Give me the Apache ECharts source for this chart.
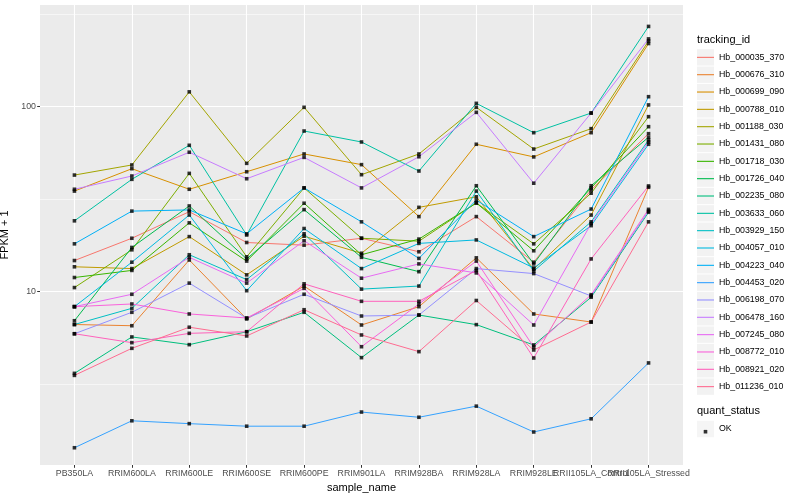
<!DOCTYPE html>
<html><head><meta charset="utf-8">
<script src="https://cdn.jsdelivr.net/npm/echarts@6/dist/echarts.min.js"></script>
<style>html,body{margin:0;padding:0;background:#fff}#c{width:800px;height:500px}</style>
</head><body><div id="c"></div>
<script>
const categories = ['PB350LA','RRIM600LA','RRIM600LE','RRIM600SE','RRIM600PE','RRIM901LA','RRIM928BA','RRIM928LA','RRIM928LE','RRII105LA_Control','RRII105LA_Stressed'];
const trackingIds = ['Hb_000035_370','Hb_000676_310','Hb_000699_090','Hb_000788_010','Hb_001188_030','Hb_001431_080','Hb_001718_030','Hb_001726_040','Hb_002235_080','Hb_003633_060','Hb_003929_150','Hb_004057_010','Hb_004223_040','Hb_004453_020','Hb_006198_070','Hb_006478_160','Hb_007245_080','Hb_008772_010','Hb_008921_020','Hb_011236_010'];
const colors = ['#F8766D','#EA8331','#D89000','#C09B00','#A3A500','#7CAE00','#39B600','#00BB4E','#00BF7D','#00C1A3','#00BFC4','#00BAE0','#00B0F6','#35A2FF','#9590FF','#C77CFF','#E76BF3','#FA62DB','#FF62BC','#FF6C91'];

// FPKM + 1 values, one array per tracking_id, in category order
const Hb_000035_370 = [14.7, 19.4, 27.0, 18.4, 17.8, 19.4, 16.4, 25.4, 14.4, 35.4, 71.3];
const Hb_000676_310 = [6.63, 6.53, 14.8, 7.10, 10.7, 6.59, 8.28, 15.2, 7.56, 6.84, 36.6];
const Hb_000699_090 = [34.9, 46.1, 35.7, 44.4, 55.4, 48.5, 25.4, 62.5, 53.4, 72.2, 219];
const Hb_000788_010 = [13.6, 13.3, 19.8, 12.3, 19.9, 16.1, 28.5, 32.5, 13.2, 25.9, 102];
const Hb_001188_030 = [42.6, 48.3, 120, 49.3, 99, 42.8, 55.4, 99, 58.9, 75.9, 226];
const Hb_001431_080 = [10.5, 16.8, 43.5, 15.4, 36.3, 19.4, 18.7, 30.1, 18.1, 34.0, 88.1];
const Hb_001718_030 = [11.9, 13.0, 23.5, 14.6, 30.0, 15.8, 19.2, 30.1, 16.6, 36.3, 77.8];
const Hb_001726_040 = [6.95, 17.3, 29.0, 15.0, 27.7, 15.3, 12.8, 37.3, 14.1, 37.3, 68.2];
const Hb_002235_080 = [3.61, 5.68, 5.16, 6.06, 7.72, 4.39, 7.46, 6.62, 5.14, 9.31, 26.8];
const Hb_003633_060 = [24.1, 40.4, 61.7, 20.2, 73.7, 64.3, 44.8, 104, 72.2, 92.2, 271];
const Hb_003929_150 = [6.63, 8.11, 15.8, 11.6, 20.5, 10.3, 10.7, 34.9, 12.9, 23.8, 65.9];
const Hb_004057_010 = [8.28, 14.4, 25.9, 10.1, 21.9, 13.3, 18.2, 19.0, 13.4, 22.7, 62.5];
const Hb_004223_040 = [18.1, 27.2, 27.6, 20.5, 36.3, 23.8, 15.1, 31.2, 19.8, 27.9, 113];
const Hb_004453_020 = [1.43, 2.00, 1.93, 1.87, 1.87, 2.23, 2.09, 2.40, 1.74, 2.05, 4.11];
const Hb_006198_070 = [5.91, 7.72, 11.1, 7.17, 9.66, 7.37, 7.46, 13.3, 12.5, 9.46, 27.2];
const Hb_006478_160 = [35.7, 42.1, 56.6, 40.7, 53.1, 36.3, 53.5, 93.0, 38.5, 92.2, 232];
const Hb_007245_080 = [8.28, 9.66, 15.3, 11.1, 18.8, 11.8, 14.1, 12.6, 6.59, 23.3, 64.3];
const Hb_008772_010 = [8.28, 8.56, 7.56, 7.19, 10.4, 5.03, 8.56, 14.6, 5.01, 9.61, 27.8];
const Hb_008921_020 = [5.91, 5.29, 5.94, 6.06, 11.0, 8.85, 8.85, 13.0, 4.37, 15.0, 37.2];
const Hb_011236_010 = [3.52, 4.93, 6.41, 5.75, 7.97, 5.82, 4.73, 8.94, 4.83, 6.84, 23.8];

const yTickValues = [10, 100];
const yTickLabels = ['10', '100'];
const yMinorValues = [3.1623, 31.623, 316.23];
const yRange = [1.1536, 353.8];

const seriesValues = [Hb_000035_370, Hb_000676_310, Hb_000699_090, Hb_000788_010, Hb_001188_030, Hb_001431_080, Hb_001718_030, Hb_001726_040, Hb_002235_080, Hb_003633_060, Hb_003929_150, Hb_004057_010, Hb_004223_040, Hb_004453_020, Hb_006198_070, Hb_006478_160, Hb_007245_080, Hb_008772_010, Hb_008921_020, Hb_011236_010];

const L = Math.log10;
const FONT = 'Liberation Sans, Arial, Helvetica, sans-serif';
const catIdx = categories.map((c, i) => i);
const evenIdx = catIdx.filter(i => i % 2 === 0);
const oddIdx = catIdx.filter(i => i % 2 === 1);

const lineSeries = trackingIds.map((id, k) => ({
  name: id, type: 'line', symbol: 'none', silent: true,
  color: colors[k],
  lineStyle: { width: 1, color: colors[k] },
  data: seriesValues[k].map((v, i) => [i, L(v)]),
  z: 2
}));
const pts = [];
seriesValues.forEach(arr => arr.forEach((v, i) => pts.push([i, L(v)])));
const pointSeries = {
  name: 'OK', type: 'scatter', symbol: 'rect', symbolSize: 3.6,
  itemStyle: { color: '#000' }, data: pts, z: 5, silent: true
};

const labelStyle = { margin: 4, fontSize: 8.8, color: '#4D4D4D', fontFamily: FONT,
  hideOverlap: false, showMinLabel: true, showMaxLabel: true,
  formatter: v => categories[Math.round(v)] };

const chart = echarts.init(document.getElementById('c'), null, { renderer: 'canvas' });
const rowH = 17.33;
chart.setOption({
  animation: false,
  backgroundColor: '#fff',
  textStyle: { fontFamily: FONT },
  title: [
    { text: 'tracking_id', left: 697, top: 34, padding: 0, textStyle: { fontSize: 11, fontWeight: 'normal', color: '#000', fontFamily: FONT } },
    { text: 'quant_status', left: 697, top: 405.5, padding: 0, textStyle: { fontSize: 11, fontWeight: 'normal', color: '#000', fontFamily: FONT } }
  ],
  grid: { left: 40, top: 5, width: 643, height: 460, show: true, backgroundColor: '#EBEBEB', borderWidth: 0, containLabel: false, outerBoundsMode: 'none' },
  xAxis: [{
    type: 'value', min: -0.6, max: 10.6, position: 'bottom', offset: 0,
    name: 'sample_name', nameLocation: 'middle', nameGap: 15,
    nameTextStyle: { fontSize: 11, color: '#000', fontFamily: FONT },
    axisLine: { show: false, onZero: false },
    axisTick: { show: true, customValues: catIdx, length: 2.8, lineStyle: { color: '#333', width: 1 } },
    axisLabel: Object.assign({ customValues: evenIdx }, labelStyle),
    splitLine: { show: true, lineStyle: { color: '#fff', width: 1.1 } }
  }, {
    type: 'value', min: -0.6, max: 10.6, position: 'bottom', offset: 0,
    axisLine: { show: false, onZero: false },
    axisTick: { show: false, customValues: oddIdx },
    axisLabel: Object.assign({ customValues: oddIdx }, labelStyle),
    splitLine: { show: false }
  }],
  yAxis: [{
    type: 'value', min: L(yRange[0]), max: L(yRange[1]), position: 'left',
    name: 'FPKM + 1', nameLocation: 'middle', nameGap: 22, nameRotate: 90,
    nameTextStyle: { fontSize: 11, color: '#000', fontFamily: FONT },
    axisLine: { show: false, onZero: false },
    axisTick: { show: true, customValues: yTickValues.map(L), length: 2.8, lineStyle: { color: '#333', width: 1 } },
    axisLabel: { customValues: yTickValues.map(L), margin: 4, fontSize: 8.8, color: '#4D4D4D', fontFamily: FONT,
      formatter: v => yTickLabels[yTickValues.map(L).findIndex(t => Math.abs(t - v) < 1e-6)] },
    splitLine: { show: true, lineStyle: { color: '#fff', width: 1.1 } }
  }, {
    type: 'value', min: L(yRange[0]), max: L(yRange[1]), position: 'left', offset: 0,
    axisLine: { show: false, onZero: false },
    axisTick: { show: false, customValues: yMinorValues.map(L) },
    axisLabel: { show: false, customValues: yMinorValues.map(L) },
    splitLine: { show: true, lineStyle: { color: '#fff', width: 0.55 } }
  }],
  legend: [
    { data: trackingIds, orient: 'vertical', left: 697, top: 49.2, padding: 0,
      itemWidth: 17, itemHeight: rowH - 1, itemGap: 1, icon: 'rect', selectedMode: false,
      itemStyle: { color: '#F2F2F2', borderWidth: 0 },
      textStyle: { fontSize: 8.8, lineHeight: rowH - 1, color: '#000', fontFamily: FONT }, z: 3 },
    { data: trackingIds, orient: 'vertical', left: 697, top: 49.2, padding: 0,
      itemWidth: 17, itemHeight: rowH - 1, itemGap: 1, icon: 'path://M0,0 H17 V1.1 H0 Z', selectedMode: false,
      itemStyle: { borderWidth: 0 },
      textStyle: { fontSize: 8.8, lineHeight: rowH - 1, color: 'rgba(0,0,0,0)', fontFamily: FONT }, z: 4 },
    { data: ['OK'], orient: 'vertical', left: 697, top: 420.8, padding: 0,
      itemWidth: 17, itemHeight: rowH - 1, icon: 'rect', selectedMode: false,
      itemStyle: { color: '#F2F2F2', borderWidth: 0 },
      textStyle: { fontSize: 8.8, color: '#000', fontFamily: FONT }, z: 3 },
    { data: ['OK'], orient: 'vertical', left: 703.7, top: 427.2, padding: 0,
      itemWidth: 3.6, itemHeight: 3.6, icon: 'rect', selectedMode: false,
      itemStyle: { color: '#000', borderWidth: 0 },
      textStyle: { fontSize: 8.8, color: 'rgba(0,0,0,0)', fontFamily: FONT }, z: 4 }
  ],
  series: lineSeries.concat([pointSeries])
});
</script></body></html>
